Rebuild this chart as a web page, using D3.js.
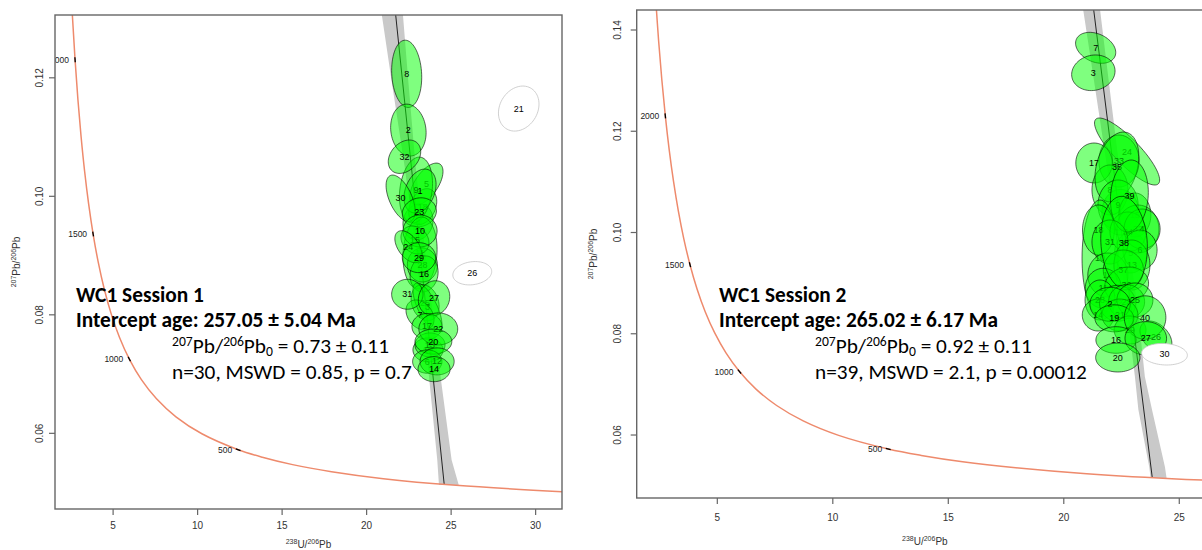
<!DOCTYPE html>
<html>
<head>
<meta charset="utf-8">
<script src="https://cdn.jsdelivr.net/npm/d3@7"></script>
<style>
  body { margin: 0; background: #fff; }
  svg { display: block; }
</style>
</head>
<body>
<svg id="chart" width="1202" height="550"></svg>
<script>
// Tera-Wasserburg concordia, ages in Ma (238U/206Pb, 207Pb/206Pb)
const concAge = [2300, 2200, 2100, 2000, 1900, 1800, 1700, 1600, 1500, 1400, 1300, 1200, 1100, 1000, 900, 800, 700, 600, 500, 450, 400, 350, 300, 250, 200];
const concX = [2.3325, 2.4586, 2.5968, 2.7490, 2.9173, 3.1046, 3.3140, 3.5496, 3.8170, 4.1227, 4.4757, 4.8876, 5.3746, 5.9595, 6.6742, 7.5683, 8.7184, 10.2522, 12.3993, 13.831, 15.620, 17.924, 20.991, 25.291, 31.735];
const concY = [0.14610, 0.13788, 0.13021, 0.12304, 0.11634, 0.11009, 0.10423, 0.09876, 0.09364, 0.08885, 0.08436, 0.08016, 0.07622, 0.07253, 0.06907, 0.06583, 0.06279, 0.05993, 0.05724, 0.05597, 0.05472, 0.05353, 0.05235, 0.05123, 0.05013];
const ageLabels = [500, 1000, 1500, 2000];

// Session 1 ellipses, in drawing order
const s1Id = [8, 2, 5, 4, 18, 9, 1, 30, 32, 23, 11, 28, 16, 15, 10, 24, 29, 25, 3, 7, 31, 27, 17, 19, 13, 22, 20, 6, 12, 14, 21, 26];
const s1X = [22.37, 22.47, 23.54, 23.04, 23.32, 22.92, 23.16, 22.01, 22.24, 23.12, 23.16, 23.30, 23.40, 22.86, 23.16, 22.47, 23.10, 23.46, 23.60, 23.16, 22.41, 23.99, 23.57, 23.63, 23.75, 24.24, 23.95, 23.59, 24.17, 23.99, 29.0, 26.25];
const s1Y = [0.12067, 0.11118, 0.10207, 0.09567, 0.09825, 0.10106, 0.10089, 0.09966, 0.10668, 0.09730, 0.09044, 0.08841, 0.08690, 0.09263, 0.09415, 0.09150, 0.08965, 0.08206, 0.08125, 0.07998, 0.08347, 0.08280, 0.07804, 0.07408, 0.07492, 0.07762, 0.07548, 0.07211, 0.07214, 0.07083, 0.11481, 0.08702];
const s1Sx = [0.89, 1.05, 0.98, 0.89, 0.83, 0.98, 0.95, 0.86, 0.96, 1.01, 1.01, 0.89, 0.83, 0.83, 1.01, 0.80, 0.99, 0.83, 0.86, 0.83, 0.93, 0.93, 0.89, 0.89, 0.89, 1.15, 1.09, 0.87, 1.01, 0.95, 1.20, 1.15];
const s1Sy = [0.00568, 0.00438, 0.00354, 0.00304, 0.00304, 0.00556, 0.00371, 0.00393, 0.00282, 0.00245, 0.00607, 0.00287, 0.00304, 0.00236, 0.00270, 0.00270, 0.00253, 0.00304, 0.00413, 0.00253, 0.00253, 0.00295, 0.00219, 0.00202, 0.00202, 0.00270, 0.00211, 0.00197, 0.00228, 0.00211, 0.00380, 0.00197];
const s1Rho = [-0.1, -0.1, 0.6, 0.1, 0.3, 0.2, 0.3, -0.55, 0.3, 0.1, 0.1, 0, 0.1, -0.2, 0, -0.5, 0, -0.2, -0.7, -0.3, 0, 0.1, 0, 0, 0, 0, 0, 0, 0, 0, 0.2, 0.15];
const s1Out = [21, 26];
const s1Line = [[0, 0.73], [24.59, 0.0514]];
const s1BandY = [0.1306, 0.120, 0.105, 0.090, 0.069, 0.0555, 0.0513];
const s1BandLo = [20.90, 21.45, 22.25, 22.95, 23.71, 24.18, 24.28];
const s1BandHi = [22.15, 22.45, 22.90, 23.50, 24.40, 25.03, 25.45];
const s1XTicks = [5, 10, 15, 20, 25, 30];
const s1YTicks = [0.06, 0.08, 0.10, 0.12];
const s1Lines = ["WC1 Session 1", "Intercept age: 257.05 \u00b1 5.04 Ma", " = 0.73 \u00b1 0.11", "n=30, MSWD = 0.85, p = 0.7"];

// Session 2 ellipses, in drawing order
const s2Id = [7, 3, 1, 5, 24, 33, 17, 8, 35, 9, 15, 10, 18, 32, 34, 4, 6, 39, 31, 12, 13, 37, 11, 36, 38, 28, 14, 22, 23, 25, 21, 29, 2, 19, 26, 40, 16, 27, 20, 30];
const s2X = [21.38, 21.28, 22.45, 22.90, 22.74, 22.39, 21.31, 22.00, 22.30, 22.35, 23.08, 21.57, 21.50, 23.21, 22.78, 23.39, 23.30, 22.84, 22.00, 21.91, 22.95, 22.58, 21.71, 22.72, 22.61, 21.57, 21.49, 22.33, 22.72, 23.08, 22.43, 22.87, 22.00, 22.19, 23.99, 23.52, 22.26, 23.55, 22.34, 24.36];
const s2Y = [0.13648, 0.13155, 0.10400, 0.09600, 0.11600, 0.11412, 0.11373, 0.10840, 0.11294, 0.10543, 0.10346, 0.09496, 0.10050, 0.10069, 0.10010, 0.10069, 0.09654, 0.10721, 0.09812, 0.09160, 0.09358, 0.09259, 0.08898, 0.08963, 0.09793, 0.08667, 0.08370, 0.08601, 0.08633, 0.08667, 0.08370, 0.08074, 0.08582, 0.08305, 0.07936, 0.08321, 0.07877, 0.07910, 0.07531, 0.07596];
const s2Sx = [0.87, 0.94, 0.80, 0.70, 1.41, 0.87, 0.79, 0.78, 0.95, 0.87, 0.69, 0.78, 0.69, 0.91, 0.78, 0.78, 0.74, 0.82, 0.78, 0.87, 0.78, 0.87, 0.78, 0.95, 1.01, 0.65, 0.69, 0.78, 0.78, 0.78, 0.78, 0.69, 0.87, 0.84, 0.69, 0.90, 0.87, 0.90, 0.96, 0.99];
const s2Sy = [0.00306, 0.00352, 0.00450, 0.00400, 0.00662, 0.00514, 0.00395, 0.00494, 0.00691, 0.00494, 0.00435, 0.01146, 0.00494, 0.00474, 0.00395, 0.00395, 0.00395, 0.00711, 0.00435, 0.00435, 0.00494, 0.00395, 0.00395, 0.00356, 0.00922, 0.00395, 0.00316, 0.00356, 0.00336, 0.00336, 0.00316, 0.00277, 0.00336, 0.00267, 0.00316, 0.00429, 0.00263, 0.00330, 0.00286, 0.00213];
const s2Rho = [-0.3, 0.1, 0, 0, -0.85, 0, 0, 0, 0.3, 0, 0, 0, 0, 0, 0, 0, 0, 0.1, 0, 0, 0, 0, 0, 0.1, -0.1, 0, 0, 0, 0, 0, 0, 0, 0, 0, -0.4, 0, 0, 0, 0, -0.1];
const s2Out = [30];
const s2Line = [[0, 0.92], [23.83, 0.0516]];
const s2BandY = [0.1440, 0.1242, 0.100, 0.085, 0.0715, 0.0650, 0.0537, 0.0515];
const s2BandLo = [20.84, 21.50, 22.30, 22.72, 23.08, 23.23, 23.70, 23.76];
const s2BandHi = [21.57, 22.10, 22.75, 23.20, 23.51, 23.82, 24.38, 24.45];
const s2XTicks = [5, 10, 15, 20, 25];
const s2YTicks = [0.06, 0.08, 0.10, 0.12, 0.14];
const s2Lines = ["WC1 Session 2", "Intercept age: 265.02 \u00b1 6.17 Ma", " = 0.92 \u00b1 0.11", "n=39, MSWD = 2.1, p = 0.00012"];

const svg = d3.select("#chart");
const axisFont = "'Liberation Sans', Arial, sans-serif";
const noteFont = "Carlito, 'Open Sans', sans-serif";

function drawPanel(p) {
  const x = d3.scaleLinear().domain(p.xDom).range([p.left, p.right]);
  const y = d3.scaleLinear().domain(p.yDom).range([p.bottom, p.top]);
  const g = svg.append("g");

  g.append("clipPath").attr("id", "clip" + p.name)
    .append("rect")
    .attr("x", p.left).attr("y", p.top)
    .attr("width", p.right - p.left).attr("height", p.bottom - p.top);
  const plot = g.append("g").attr("clip-path", `url(#clip${p.name})`);

  // error envelope of the regression line
  const band = p.bandY.map((v, i) => [p.bandLo[i], v])
    .concat(p.bandY.map((v, i) => [p.bandHi[i], v]).reverse());
  plot.append("path")
    .attr("d", d3.line().x(d => x(d[0])).y(d => y(d[1]))(band) + "Z")
    .attr("fill", "#c9c9c9");

  plot.append("line")
    .attr("x1", x(p.line[0][0])).attr("y1", y(p.line[0][1]))
    .attr("x2", x(p.line[1][0])).attr("y2", y(p.line[1][1]))
    .attr("stroke", "#111").attr("stroke-width", 0.9);

  // concordia
  const conc = concX.map((d, i) => [d, concY[i]]);
  plot.append("path").datum(conc)
    .attr("fill", "none")
    .attr("stroke", "#ee8a6c")
    .attr("stroke-width", 1.5)
    .attr("d", d3.line().x(d => x(d[0])).y(d => y(d[1])).curve(d3.curveCatmullRom));

  ageLabels.forEach(a => {
    const i = concAge.indexOf(a);
    const px = x(concX[i]), py = y(concY[i]);
    const dx = x(concX[i + 1]) - x(concX[i - 1]);
    const dy = y(concY[i + 1]) - y(concY[i - 1]);
    const len = Math.hypot(dx, dy);
    plot.append("line")
      .attr("x1", px - dx / len * 2.5).attr("y1", py - dy / len * 2.5)
      .attr("x2", px + dx / len * 2.5).attr("y2", py + dy / len * 2.5)
      .attr("stroke", "#000").attr("stroke-width", 1.3);
    plot.append("text")
      .attr("x", px - 6).attr("y", py)
      .attr("text-anchor", "end")
      .attr("dominant-baseline", "central")
      .style("font-family", axisFont)
      .style("font-size", "8.5px")
      .attr("fill", "#222")
      .text(a);
  });

  // data ellipses, each followed by its label
  const ell = d3.line().x(d => d[0]).y(d => d[1]).curve(d3.curveLinearClosed);
  p.id.forEach((id, i) => {
    const out = p.out.includes(id);
    const r = p.rho[i], k = Math.sqrt(1 - r * r);
    const pts = d3.range(72).map(j => {
      const t = j / 72 * 2 * Math.PI;
      return [x(p.x[i] + p.sx[i] * Math.cos(t)),
              y(p.y[i] + p.sy[i] * (r * Math.cos(t) + k * Math.sin(t)))];
    });
    plot.append("path")
      .attr("d", ell(pts))
      .attr("fill", out ? "#fff" : "rgba(0,255,0,0.5)")
      .attr("stroke", out ? "#c4c4c4" : "rgba(0,0,0,0.75)")
      .attr("stroke-width", 0.8);
    plot.append("text")
      .attr("x", x(p.x[i])).attr("y", y(p.y[i]))
      .attr("text-anchor", "middle")
      .attr("dominant-baseline", "central")
      .style("font-family", axisFont)
      .style("font-size", "9px")
      .attr("fill", "#000")
      .text(id);
  });

  // frame and ticks
  g.append("rect")
    .attr("x", p.left).attr("y", p.top)
    .attr("width", p.right - p.left).attr("height", p.bottom - p.top)
    .attr("fill", "none").attr("stroke", "#666").attr("stroke-width", 1.4);

  const xt = g.append("g");
  p.xTicks.forEach(v => {
    xt.append("line").attr("x1", x(v)).attr("x2", x(v))
      .attr("y1", p.bottom).attr("y2", p.bottom + 6)
      .attr("stroke", "#666").attr("stroke-width", 1.2);
    xt.append("text").attr("x", x(v)).attr("y", p.bottom + p.xLabOff)
      .attr("text-anchor", "middle").attr("dominant-baseline", "central")
      .style("font-family", axisFont).style("font-size", "10px")
      .attr("fill", "#333").text(v);
  });
  const yt = g.append("g");
  p.yTicks.forEach(v => {
    yt.append("line").attr("x1", p.left - 6).attr("x2", p.left)
      .attr("y1", y(v)).attr("y2", y(v))
      .attr("stroke", "#666").attr("stroke-width", 1.2);
    yt.append("text")
      .attr("transform", `translate(${p.left - p.yLabOff},${y(v)}) rotate(-90)`)
      .attr("text-anchor", "middle").attr("dominant-baseline", "central")
      .style("font-family", axisFont).style("font-size", "10px")
      .attr("fill", "#333").text(d3.format(".2f")(v));
  });

  // axis titles
  const xTitle = g.append("text")
    .attr("x", (p.left + p.right) / 2).attr("y", p.xTitleY)
    .attr("text-anchor", "middle")
    .style("font-family", axisFont).style("font-size", "10px").attr("fill", "#333");
  xTitle.append("tspan").style("font-size", "7px").attr("dy", -4).text("238");
  xTitle.append("tspan").attr("dy", 4).text("U/");
  xTitle.append("tspan").style("font-size", "7px").attr("dy", -4).text("206");
  xTitle.append("tspan").attr("dy", 4).text("Pb");

  const yTitle = g.append("text")
    .attr("transform", `translate(${p.yTitleX},${(p.top + p.bottom) / 2}) rotate(-90)`)
    .attr("text-anchor", "middle")
    .style("font-family", axisFont).style("font-size", "10px").attr("fill", "#333");
  yTitle.append("tspan").style("font-size", "7px").attr("dy", -4).text("207");
  yTitle.append("tspan").attr("dy", 4).text("Pb/");
  yTitle.append("tspan").style("font-size", "7px").attr("dy", -4).text("206");
  yTitle.append("tspan").attr("dy", 4).text("Pb");

  // annotation: font sizes fitted to the widths of the reference lines
  const note = g.append("g").style("font-family", noteFont).attr("fill", "#000");
  const b1 = note.append("text").attr("x", p.noteX).attr("y", 301.7)
    .style("font-size", "19px").style("font-weight", "bold").text(p.lines[0]);
  const b2 = note.append("text").attr("x", p.noteX).attr("y", 327.3)
    .style("font-size", "19px").style("font-weight", "bold").text(p.lines[1]);
  const r4 = note.append("text").attr("x", p.noteX2).attr("y", 379.3)
    .style("font-size", "19px").text(p.lines[3]);
  const bSize = 19 * p.boldW / b2.node().getComputedTextLength();
  const rSize = 19 * p.regW / r4.node().getComputedTextLength();
  b1.style("font-size", bSize + "px");
  b2.style("font-size", bSize + "px");
  r4.style("font-size", rSize + "px");

  const sup = rSize * 0.64, up = rSize * 0.36, dn = rSize * 0.14;
  const l3 = note.append("text").attr("x", p.noteX2).attr("y", 353.3).style("font-size", rSize + "px");
  l3.append("tspan").style("font-size", sup + "px").attr("dy", -up).text("207");
  l3.append("tspan").attr("dy", up).text("Pb/");
  l3.append("tspan").style("font-size", sup + "px").attr("dy", -up).text("206");
  l3.append("tspan").attr("dy", up).text("Pb");
  l3.append("tspan").style("font-size", sup + "px").attr("dy", dn).text("0");
  l3.append("tspan").attr("dy", -dn).text(p.lines[2]);
}

drawPanel({
  name: "s1", left: 55, right: 562, top: 15, bottom: 509,
  xDom: [1.562, 31.56], yDom: [0.04723, 0.1306],
  id: s1Id, x: s1X, y: s1Y, sx: s1Sx, sy: s1Sy, rho: s1Rho, out: s1Out,
  line: s1Line, bandY: s1BandY, bandLo: s1BandLo, bandHi: s1BandHi,
  xTicks: s1XTicks, yTicks: s1YTicks, xLabOff: 16, yLabOff: 15.3,
  xTitleY: 548, yTitleX: 20, lines: s1Lines, noteX: 76, noteX2: 172,
  boldW: 280, regW: 240
});

drawPanel({
  name: "s2", left: 636.7, right: 1213, top: 10, bottom: 498,
  xDom: [1.51, 26.46], yDom: [0.04756, 0.14395],
  id: s2Id, x: s2X, y: s2Y, sx: s2Sx, sy: s2Sy, rho: s2Rho, out: s2Out,
  line: s2Line, bandY: s2BandY, bandLo: s2BandLo, bandHi: s2BandHi,
  xTicks: s2XTicks, yTicks: s2YTicks, xLabOff: 19.3, yLabOff: 19.7,
  xTitleY: 545, yTitleX: 597, lines: s2Lines, noteX: 719, noteX2: 815,
  boldW: 279, regW: 272
});
</script>
</body>
</html>
